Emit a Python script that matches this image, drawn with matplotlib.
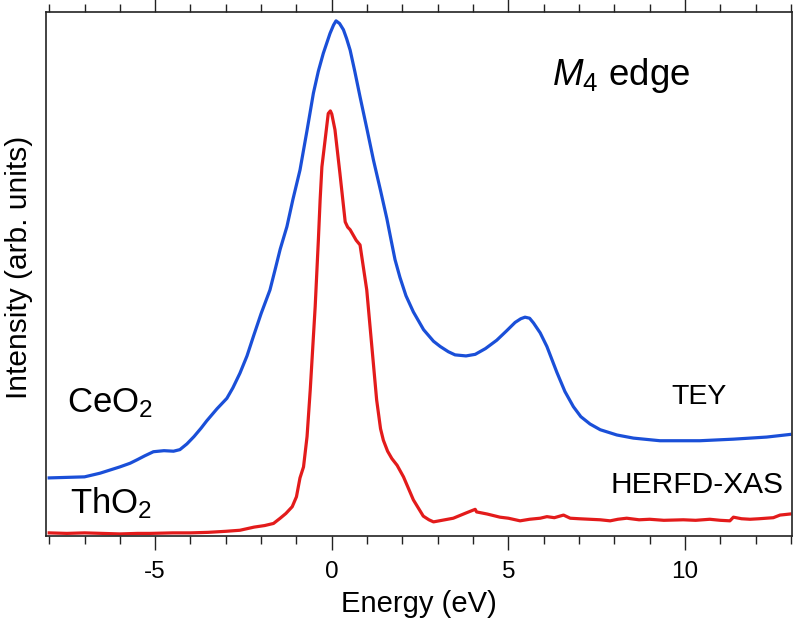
import matplotlib
matplotlib.use("Agg")
import matplotlib.pyplot as plt
from matplotlib.ticker import MultipleLocator

plt.rcParams['font.family'] = ['Liberation Sans', 'DejaVu Sans']
plt.rcParams['mathtext.fontset'] = 'custom'
plt.rcParams['mathtext.rm'] = 'Liberation Sans'
plt.rcParams['mathtext.it'] = 'Liberation Sans:italic'
plt.rcParams['axes.unicode_minus'] = False

# TEY (CeO2) spectrum
tey_energy = [-8.0, -7.5, -7.0, -6.56, -6.0, -5.71, -5.5, -5.3, -5.05, -4.75, -4.48, -4.3,
              -4.1, -3.9, -3.7, -3.54, -3.25, -2.97, -2.8, -2.6, -2.4, -2.22, -2.0, -1.75,
              -1.6, -1.46, -1.27, -1.1, -0.9, -0.7, -0.52, -0.38, -0.24, -0.12, -0.05,
              0.05, 0.12, 0.22, 0.33, 0.42, 0.52, 0.65, 0.8, 1.0, 1.18, 1.38, 1.56, 1.68,
              1.79, 1.93, 2.1, 2.31, 2.6, 2.88, 3.07, 3.3, 3.49, 3.8, 4.06, 4.35, 4.67,
              4.95, 5.19, 5.35, 5.47, 5.6, 5.71, 5.9, 6.09, 6.37, 6.6, 6.84, 7.05, 7.31,
              7.6, 8.07, 8.54, 9.29, 10.42, 11.37, 12.31, 12.97]
tey_intensity = [0.111, 0.112, 0.113, 0.120, 0.132, 0.139, 0.146, 0.153, 0.161, 0.163, 0.162,
                 0.165, 0.176, 0.190, 0.206, 0.220, 0.243, 0.263, 0.283, 0.311, 0.344, 0.381,
                 0.425, 0.470, 0.510, 0.548, 0.591, 0.643, 0.699, 0.775, 0.846, 0.888, 0.922,
                 0.946, 0.960, 0.976, 0.984, 0.979, 0.967, 0.950, 0.928, 0.888, 0.839, 0.776,
                 0.718, 0.660, 0.606, 0.565, 0.528, 0.494, 0.459, 0.428, 0.394, 0.372, 0.362,
                 0.352, 0.346, 0.344, 0.347, 0.358, 0.374, 0.392, 0.408, 0.415, 0.418, 0.416,
                 0.407, 0.388, 0.362, 0.313, 0.276, 0.247, 0.228, 0.214, 0.203, 0.193, 0.187,
                 0.182, 0.182, 0.185, 0.189, 0.194]

# HERFD-XAS (ThO2) spectrum
herfd_energy = [-8.0, -7.5, -7.0, -6.5, -6.0, -5.5, -5.14, -4.5, -4.0, -3.5, -3.0, -2.6, -2.2,
                -1.9, -1.65, -1.46, -1.3, -1.12, -1.0, -0.9, -0.8, -0.7, -0.61, -0.47, -0.38,
                -0.33, -0.28, -0.19, -0.1, -0.04, 0.0, 0.09, 0.23, 0.38, 0.45, 0.52, 0.69, 0.8,
                0.99, 1.15, 1.27, 1.38, 1.46, 1.58, 1.7, 1.85, 2.03, 2.31, 2.59, 2.75, 2.88,
                3.2, 3.44, 3.8, 4.06, 4.1, 4.4, 4.76, 5.0, 5.33, 5.6, 5.9, 6.09, 6.3, 6.56,
                6.75, 7.0, 7.3, 7.6, 7.88, 8.1, 8.35, 8.7, 9.0, 9.4, 9.95, 10.3, 10.7, 11.0,
                11.27, 11.37, 11.6, 11.84, 12.1, 12.3, 12.5, 12.69, 12.97]
herfd_intensity = [0.006, 0.005, 0.006, 0.005, 0.004, 0.005, 0.005, 0.006, 0.006, 0.007,
                   0.009, 0.011, 0.017, 0.020, 0.024, 0.034, 0.043, 0.056, 0.075, 0.111,
                   0.132, 0.190, 0.279, 0.438, 0.565, 0.642, 0.705, 0.756, 0.807, 0.812,
                   0.806, 0.776, 0.693, 0.600, 0.590, 0.585, 0.565, 0.556, 0.470, 0.350,
                   0.260, 0.205, 0.183, 0.162, 0.148, 0.135, 0.113, 0.069, 0.038, 0.031,
                   0.027, 0.031, 0.034, 0.044, 0.051, 0.046, 0.042, 0.036, 0.034, 0.029,
                   0.032, 0.034, 0.037, 0.035, 0.040, 0.034, 0.033, 0.032, 0.031, 0.029,
                   0.032, 0.034, 0.031, 0.032, 0.030, 0.031, 0.030, 0.032, 0.030, 0.029,
                   0.036, 0.033, 0.032, 0.033, 0.034, 0.035, 0.040, 0.042]

x_major_ticks = [-5, 0, 5, 10]

fig = plt.figure(figsize=(7.96, 6.24), dpi=100)
ax = fig.add_axes([0.0578, 0.141, 0.9368, 0.839])

ax.plot(tey_energy, tey_intensity, color='#1a4fd8', lw=2.3, solid_joinstyle='round')
ax.plot(herfd_energy, herfd_intensity, color='#e31b1b', lw=2.3, solid_joinstyle='round')

ax.set_xlim(-8.09, 13.02)
ax.set_ylim(0, 1)
ax.set_xticks(x_major_ticks)
ax.xaxis.set_minor_locator(MultipleLocator(1))
ax.set_yticks([])
ax.tick_params(axis='x', which='both', direction='out', top=True, bottom=True,
               labelsize=17.5, width=1.0, color='#222222', pad=8)
ax.tick_params(axis='x', which='major', length=10)
ax.tick_params(axis='x', which='minor', length=6)
for s in ax.spines.values():
    s.set_linewidth(1.2)
    s.set_color('#222222')

ax.set_xlabel('Energy (eV)', fontsize=21, labelpad=5)
ax.set_ylabel('Intensity (arb. units)', fontsize=21.5)
ax.yaxis.set_label_coords(-0.0174, 0.514)

ax.text(-7.49, 0.237, 'CeO$_2$', fontsize=25, va='baseline', ha='left')
ax.text(-7.40, 0.044, 'ThO$_2$', fontsize=25, va='baseline', ha='left')
ax.text(9.62, 0.252, 'TEY', fontsize=20.5, va='baseline', ha='left')
ax.text(7.88, 0.082, 'HERFD-XAS', fontsize=21.5, va='baseline', ha='left')
ax.text(6.24, 0.862, r'$\mathit{M}_{\mathit{4}}$ edge', fontsize=26.5, va='baseline', ha='left')

fig.savefig('out.png', dpi=100)
